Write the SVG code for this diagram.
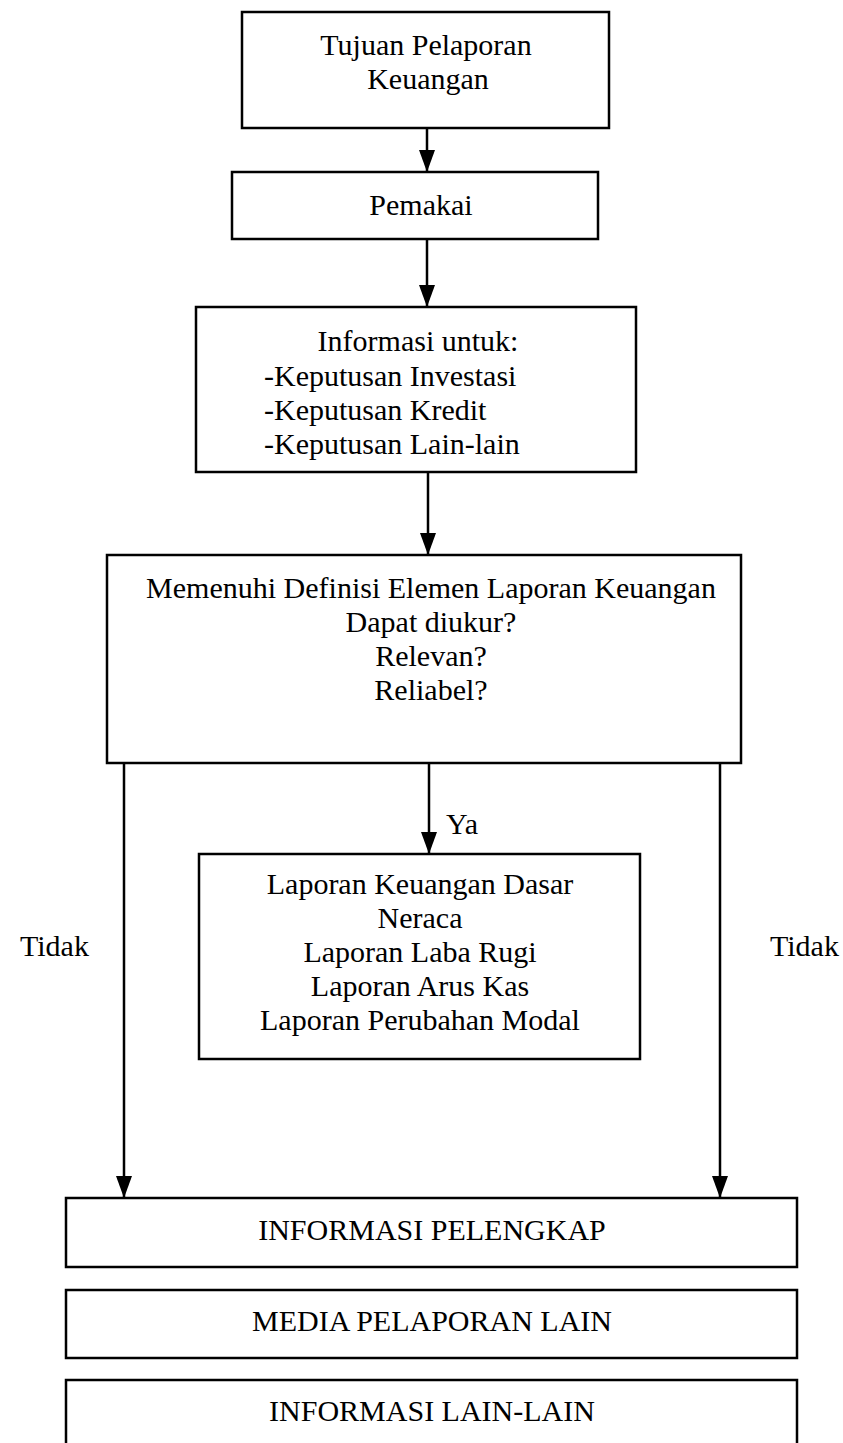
<svg xmlns="http://www.w3.org/2000/svg" width="843" height="1443" viewBox="0 0 843 1443">
<defs>
<style>
.box{fill:#fff;stroke:#000;stroke-width:2.5}
.t{font-family:"Liberation Serif","Times New Roman",serif;font-size:30px;fill:#000}
.c{text-anchor:middle}
.conn{stroke:#000;stroke-width:2.5;fill:none}
</style>
<marker id="ah" viewBox="0 0 22 16" refX="22" refY="8" markerWidth="22" markerHeight="16" orient="auto" markerUnits="userSpaceOnUse">
<path d="M0,0 L22,8 L0,16 z" fill="#000"/>
</marker>
</defs>
<rect width="843" height="1443" fill="#fff"/>
<g id="connectors">
<line class="conn" x1="427" y1="128" x2="427" y2="172" marker-end="url(#ah)"/>
<line class="conn" x1="427" y1="239" x2="427" y2="307" marker-end="url(#ah)"/>
<line class="conn" x1="428" y1="472" x2="428" y2="555" marker-end="url(#ah)"/>
<line class="conn" x1="429" y1="763" x2="429" y2="854" marker-end="url(#ah)"/>
<line class="conn" x1="124" y1="763" x2="124" y2="1198" marker-end="url(#ah)"/>
<line class="conn" x1="720" y1="763" x2="720" y2="1198" marker-end="url(#ah)"/>
<text class="t" x="446" y="834">Ya</text>
<text class="t" x="20" y="956">Tidak</text>
<text class="t" x="770" y="956">Tidak</text>
</g>
<g id="n1">
<rect class="box" x="242" y="12" width="367" height="116"/>
<text class="t c" x="426" y="55">Tujuan Pelaporan</text>
<text class="t c" x="428" y="89">Keuangan</text>
</g>
<g id="n2">
<rect class="box" x="232" y="172" width="366" height="67"/>
<text class="t c" x="421" y="215">Pemakai</text>
</g>
<g id="n3">
<rect class="box" x="196" y="307" width="440" height="165"/>
<text class="t c" x="418" y="351">Informasi untuk:</text>
<text class="t" x="264" y="386">-Keputusan Investasi</text>
<text class="t" x="264" y="420">-Keputusan Kredit</text>
<text class="t" x="264" y="454">-Keputusan Lain-lain</text>
</g>
<g id="n4">
<rect class="box" x="107" y="555" width="634" height="208"/>
<text class="t c" x="431" y="598">Memenuhi Definisi Elemen Laporan Keuangan</text>
<text class="t c" x="431" y="632">Dapat diukur?</text>
<text class="t c" x="431" y="666">Relevan?</text>
<text class="t c" x="431" y="700">Reliabel?</text>
</g>
<g id="n5">
<rect class="box" x="199" y="854" width="441" height="205"/>
<text class="t c" x="420" y="894">Laporan Keuangan Dasar</text>
<text class="t c" x="420" y="928">Neraca</text>
<text class="t c" x="420" y="962">Laporan Laba Rugi</text>
<text class="t c" x="420" y="996">Laporan Arus Kas</text>
<text class="t c" x="420" y="1030">Laporan Perubahan Modal</text>
</g>
<g id="n6">
<rect class="box" x="66" y="1198" width="731" height="69"/>
<text class="t c" x="432" y="1240">INFORMASI PELENGKAP</text>
</g>
<g id="n7">
<rect class="box" x="66" y="1290" width="731" height="68"/>
<text class="t c" x="432" y="1331">MEDIA PELAPORAN LAIN</text>
</g>
<g id="n8">
<rect class="box" x="66" y="1380" width="731" height="80"/>
<text class="t c" x="432" y="1421">INFORMASI LAIN-LAIN</text>
</g>
</svg>
